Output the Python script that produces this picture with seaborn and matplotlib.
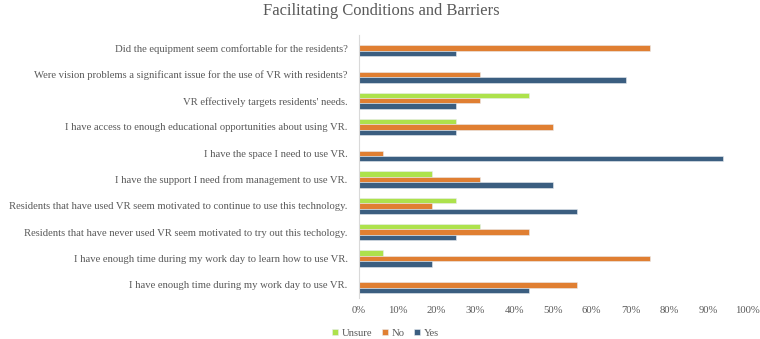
"""
Facilitating Conditions and Barriers - barras horizontais agrupadas (Unsure / No / Yes)
"""
import matplotlib.pyplot as plt
import seaborn as sns
import pandas as pd
from matplotlib.ticker import PercentFormatter

perguntas = [
    "Did the equipment seem comfortable for the residents?",
    "Were vision problems a significant issue for the use of VR with residents?",
    "VR effectively targets residents' needs.",
    "I have access to enough educational opportunities about using VR.",
    "I have the space I need to use VR.",
    "I have the support I need from management to use VR.",
    "Residents that have used VR seem motivated to continue to use this technology.",
    "Residents that have never used VR seem motivated to try out this techology.",
    "I have enough time during my work day to learn how to use VR.",
    "I have enough time during my work day to use VR.",
]
respostas = ["Unsure", "No", "Yes"]
unsure = [0, 0, 43.75, 25, 0, 18.75, 25, 31.25, 6.25, 0]
no = [75, 31.25, 31.25, 50, 6.25, 31.25, 18.75, 43.75, 75, 56.25]
yes = [25, 68.75, 25, 25, 93.75, 50, 56.25, 25, 18.75, 43.75]
cores = ["#ADE24C", "#E07F32", "#3B5E80"]

tabela = pd.DataFrame({"Pergunta": perguntas, "Unsure": unsure, "No": no, "Yes": yes})
tabela = tabela.melt(id_vars="Pergunta", var_name="Resposta", value_name="Percentual")

sns.set_theme(style="white")
plt.rcParams["font.family"] = ["Liberation Serif", "DejaVu Serif"]
cinza = "#595959"

fig = plt.figure(figsize=(7.6, 3.39), dpi=100)
ax = fig.add_axes([0.472, 0.121, 0.511, 0.776])

sns.barplot(data=tabela, x="Percentual", y="Pergunta", hue="Resposta", hue_order=respostas,
            order=perguntas, palette=cores, saturation=1, width=0.62, orient="h", ax=ax,
            edgecolor="#E8ECF0", linewidth=0.4)

ax.set_xlim(0, 100)
ax.set_xticks(range(0, 101, 10))
ax.xaxis.set_major_formatter(PercentFormatter(decimals=0))
ax.set_xlabel("")
ax.set_ylabel("")
ax.tick_params(axis="both", length=0, labelsize=7.7, labelcolor=cinza)
ax.tick_params(axis="y", pad=8)
ax.tick_params(axis="x", pad=6)
for lado in ["top", "right", "bottom"]:
    ax.spines[lado].set_visible(False)
ax.spines["left"].set_color("#D9D9D9")
ax.spines["left"].set_linewidth(0.8)

fig.suptitle("Facilitating Conditions and Barriers", x=0.502, y=0.99, fontsize=11.9, color=cinza)

ax.get_legend().remove()
handles, labels = ax.get_legend_handles_labels()
fig.legend(handles, labels, loc="lower center", bbox_to_anchor=(0.507, -0.025), ncol=3, frameon=False,
           fontsize=7.7, labelcolor=cinza, handlelength=0.6, handleheight=0.6, handletextpad=0.3,
           columnspacing=0.9)

fig.savefig("out.png", dpi=100)
